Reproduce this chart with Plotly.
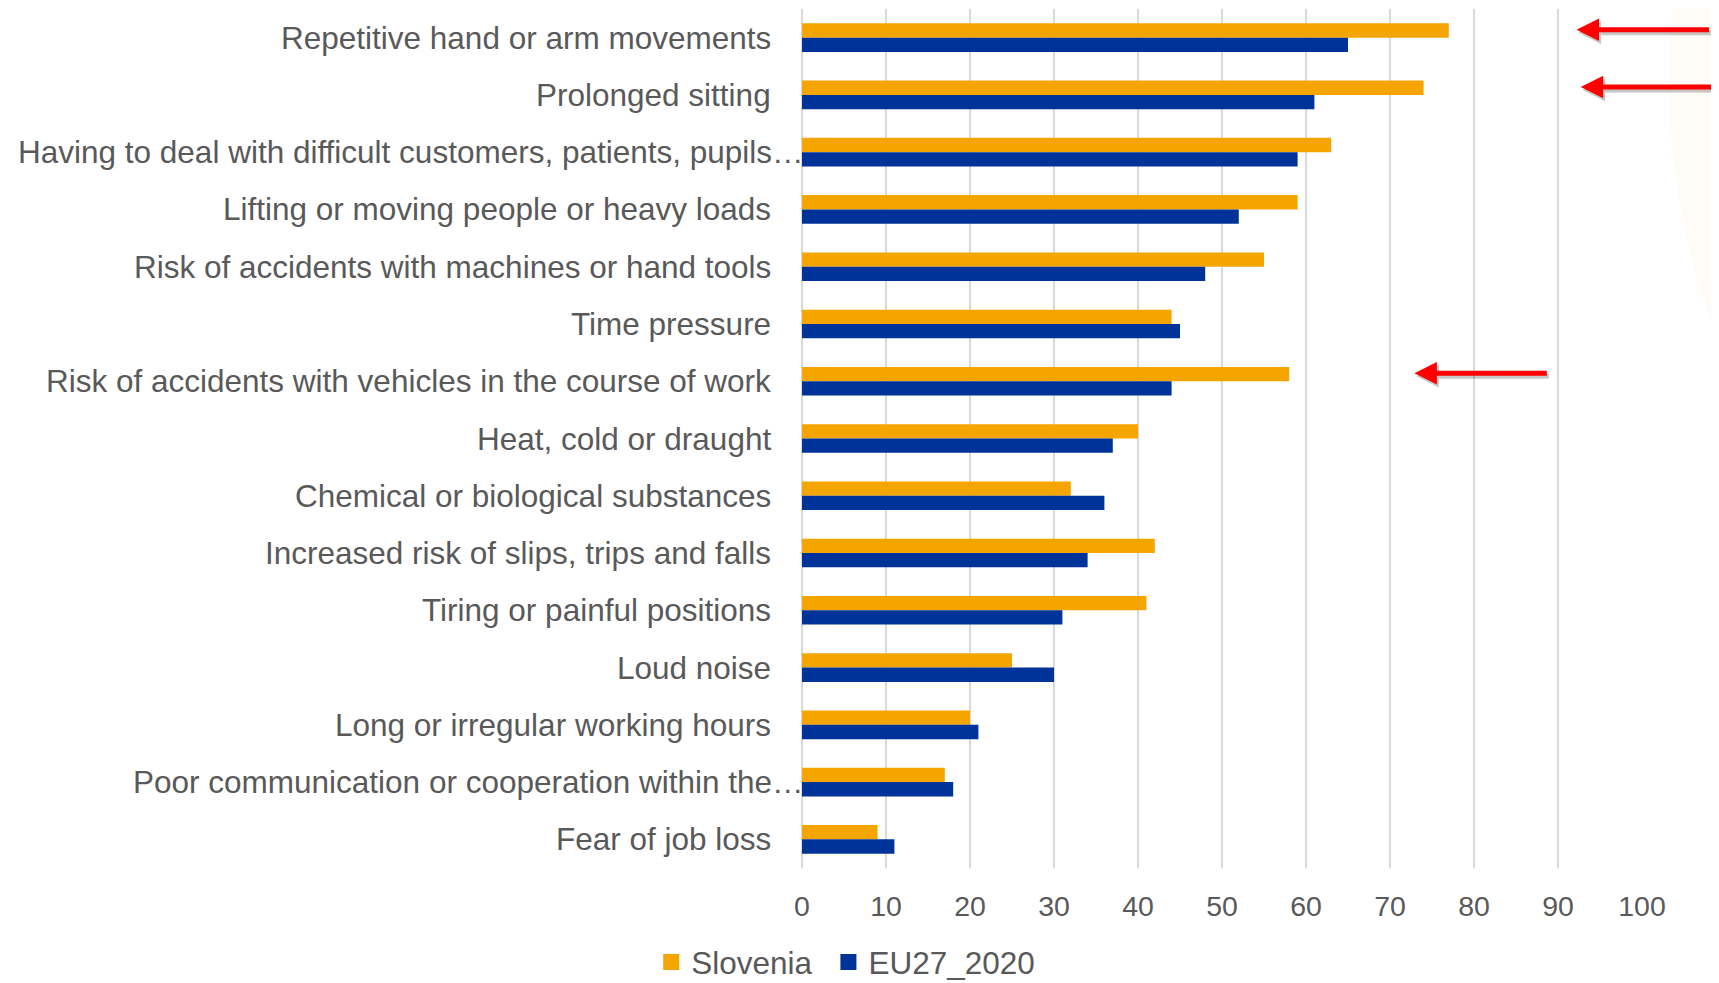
import plotly.graph_objects as go

categories = [
    "Repetitive hand or arm movements",
    "Prolonged sitting",
    "Having to deal with difficult customers, patients, pupils…",
    "Lifting or moving people or heavy loads",
    "Risk of accidents with machines or hand tools",
    "Time pressure",
    "Risk of accidents with vehicles in the course of work",
    "Heat, cold or draught",
    "Chemical or biological substances",
    "Increased risk of slips, trips and falls",
    "Tiring or painful positions",
    "Loud noise",
    "Long or irregular working hours",
    "Poor communication or cooperation within the…",
    "Fear of job loss",
]
slovenia = [77, 74, 63, 59, 55, 44, 58, 40, 32, 42, 41, 25, 20, 17, 9]
eu27_2020 = [65, 61, 59, 52, 48, 45, 44, 37, 36, 34, 31, 30, 21, 18, 11]
series_names = ["Slovenia", "EU27_2020"]
x_ticks = [0, 10, 20, 30, 40, 50, 60, 70, 80, 90, 100]
# highlighted categories (arrows) and the value where each arrow tip points
arrow_categories = ["Repetitive hand or arm movements", "Prolonged sitting",
                    "Risk of accidents with vehicles in the course of work"]
arrow_tips = [92.2, 92.7, 72.9]

ORANGE = "#F5A500"
BLUE = "#003399"
TEXT = "#595959"
GRID = "#D9D9D9"
FONT = "Liberation Sans, Arial, sans-serif"

fig = go.Figure()
fig.add_trace(go.Bar(y=categories, x=slovenia, name=series_names[0], orientation="h",
                     marker=dict(color=ORANGE, line=dict(width=0)), showlegend=False))
fig.add_trace(go.Bar(y=categories, x=eu27_2020, name=series_names[1], orientation="h",
                     marker=dict(color=BLUE, line=dict(width=0)), showlegend=False))
# legend entries with square swatches (first entry padded for item spacing)
legend_pad = ["\u00a0\u200a", ""]
for name, pad, col in zip(series_names, legend_pad, [ORANGE, BLUE]):
    fig.add_trace(go.Scatter(x=[None], y=[None], mode="markers", name=name + pad,
                             marker=dict(symbol="square", size=16, color=col),
                             showlegend=True, hoverinfo="skip"))

annotations = []
for c in categories:
    truncated = c.endswith("…")
    annotations.append(dict(
        x=0, xref="paper", y=c, yref="y", text=c, showarrow=False,
        xanchor="right", yanchor="middle", xshift=4 if truncated else -29,
        font=dict(family=FONT, size=31.5, color=TEXT)))

for c, tip in zip(arrow_categories, arrow_tips):
    # soft shadow
    annotations.append(dict(
        x=tip, xref="x", y=c, yref="y", text="", showarrow=True,
        ax=134, ay=0, axref="pixel", ayref="pixel", xshift=2, yshift=5,
        arrowhead=2, arrowsize=0.9, arrowwidth=5, arrowcolor="rgba(0,0,0,0.22)",
        standoff=0, startstandoff=0))
    annotations.append(dict(
        x=tip, xref="x", y=c, yref="y", text="", showarrow=True,
        ax=134, ay=0, axref="pixel", ayref="pixel", yshift=8,
        arrowhead=2, arrowsize=0.9, arrowwidth=5, arrowcolor="#FF0000",
        standoff=0, startstandoff=0))

# the page body adds an 8px offset; figure extends slightly past the window bottom
fig.update_layout(
    width=1711, height=983,
    margin=dict(l=794, r=77, t=1, b=123, autoexpand=False),
    paper_bgcolor="white", plot_bgcolor="white",
    barmode="group", bargap=0.5, bargroupgap=0,
    font=dict(family=FONT, color=TEXT),
    xaxis=dict(range=[0, 100], tickvals=x_ticks, showgrid=True, gridcolor=GRID,
               gridwidth=1.5, zeroline=True, zerolinecolor=GRID, zerolinewidth=1.5,
               showline=False, ticks="", ticklabelstandoff=18,
               tickfont=dict(family=FONT, size=28.5, color=TEXT)),
    yaxis=dict(autorange="reversed", showticklabels=False, showgrid=False,
               zeroline=False, showline=False, ticks=""),
    legend=dict(orientation="h", xref="container", yref="container",
                x=0.4896, y=0.0295, xanchor="center", yanchor="middle",
                font=dict(family=FONT, size=31.5, color=TEXT),
                itemsizing="trace", traceorder="normal",
                bgcolor="rgba(0,0,0,0)"),
    annotations=annotations,
    shapes=[dict(type="circle", xref="paper", yref="paper",
                 x0=1.032, x1=2.72, y0=0.092, y1=1.743,
                 line=dict(width=0), fillcolor="rgba(245,165,0,0.03)",
                 layer="below")],
)

fig.write_html("out.html")
